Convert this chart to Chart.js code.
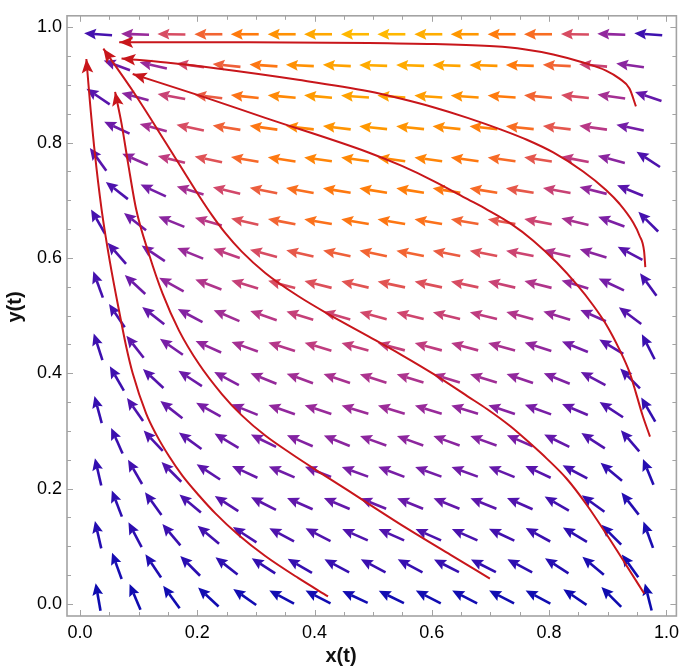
<!DOCTYPE html>
<html>
<head>
<meta charset="utf-8">
<script src="https://cdn.jsdelivr.net/npm/chart.js@4.4.1/dist/chart.umd.min.js"></script>
<style>
  html, body { margin: 0; padding: 0; background: #fff; }
</style>
</head>
<body>
<canvas id="chart" width="685" height="669"></canvas>
<script>
// vector field grid, hexagonal: even rows use colXA, odd rows colXB
const rowY = [0.988, 0.934, 0.880, 0.826, 0.771, 0.717, 0.663, 0.608, 0.554, 0.500,
              0.446, 0.391, 0.337, 0.283, 0.229, 0.174, 0.120, 0.066, 0.012];
const colXA = [0.031, 0.094, 0.156, 0.219, 0.281, 0.344, 0.406, 0.469,
               0.531, 0.594, 0.656, 0.719, 0.781, 0.844, 0.906, 0.969];
const colXB = [0.063, 0.125, 0.188, 0.250, 0.313, 0.375, 0.438, 0.500,
               0.563, 0.625, 0.688, 0.750, 0.813, 0.875, 0.938];

// arrow direction: degrees above the leftward horizontal (0 = left, 90 = up)
const arrowTilt = [
  [4, 2, 1, 0, 0, 0, 0, 0, 0, 0, 0, 0, 0, 1, 2, 4],
  [20, 13, 8, 6, 4, 3, 3, 2, 2, 2, 2, 2, 3, 5, 8],
  [34, 15, 10, 7, 6, 5, 5, 4, 4, 4, 4, 4, 5, 6, 8, 19],
  [25, 15, 12, 9, 8, 7, 7, 6, 6, 6, 6, 6, 7, 8, 12],
  [54, 24, 14, 12, 10, 9, 8, 8, 8, 8, 8, 8, 9, 11, 15, 33],
  [38, 25, 17, 13, 11, 10, 9, 9, 9, 9, 9, 9, 10, 14, 22],
  [60, 38, 22, 16, 13, 11, 10, 10, 10, 10, 10, 10, 11, 14, 20, 45],
  [49, 34, 22, 19, 15, 13, 12, 12, 11, 11, 11, 11, 13, 17, 28],
  [70, 43, 29, 21, 17, 15, 14, 13, 12, 12, 12, 13, 14, 17, 25, 54],
  [56, 38, 28, 23, 19, 17, 16, 15, 14, 14, 14, 15, 17, 24, 37],
  [72, 52, 35, 24, 20, 18, 17, 16, 15, 15, 15, 16, 18, 22, 31, 63],
  [60, 43, 33, 28, 22, 20, 19, 18, 17, 17, 17, 19, 22, 28, 45],
  [75, 55, 38, 29, 22, 19, 18, 17, 17, 17, 17, 18, 20, 23, 33, 60],
  [66, 47, 36, 31, 26, 23, 22, 20, 20, 20, 20, 23, 26, 33, 49],
  [77, 60, 45, 33, 25, 23, 21, 20, 21, 20, 20, 22, 25, 28, 40, 68],
  [69, 54, 40, 33, 27, 24, 23, 22, 22, 22, 22, 24, 30, 36, 52],
  [77, 62, 50, 40, 33, 28, 27, 24, 24, 24, 24, 25, 29, 31, 45, 70],
  [70, 56, 45, 38, 33, 30, 28, 28, 28, 27, 27, 28, 33, 40, 54],
  [80, 67, 54, 43, 35, 28, 27, 25, 26, 27, 27, 27, 28, 34, 45, 76]
];

// relative speed of each arrow, 0 = slow (blue) .. 1 = fast (yellow)
const arrowLevel = [
  [0.20, 0.42, 0.60, 0.72, 0.82, 0.88, 0.95, 1.00, 1.00, 0.97, 0.90, 0.82, 0.76, 0.60, 0.40, 0.18],
  [0.30, 0.42, 0.58, 0.70, 0.80, 0.88, 0.93, 0.96, 0.96, 0.94, 0.90, 0.82, 0.72, 0.55, 0.38],
  [0.25, 0.38, 0.55, 0.68, 0.79, 0.86, 0.91, 0.93, 0.93, 0.92, 0.88, 0.82, 0.72, 0.60, 0.45, 0.28],
  [0.30, 0.45, 0.60, 0.71, 0.80, 0.86, 0.89, 0.90, 0.89, 0.87, 0.83, 0.76, 0.65, 0.50, 0.32],
  [0.25, 0.38, 0.52, 0.63, 0.74, 0.81, 0.85, 0.86, 0.86, 0.85, 0.81, 0.75, 0.65, 0.52, 0.38, 0.22],
  [0.22, 0.32, 0.45, 0.58, 0.69, 0.77, 0.81, 0.83, 0.83, 0.81, 0.75, 0.66, 0.55, 0.40, 0.25],
  [0.20, 0.30, 0.38, 0.50, 0.62, 0.72, 0.78, 0.80, 0.80, 0.78, 0.72, 0.65, 0.56, 0.46, 0.34, 0.20],
  [0.22, 0.32, 0.42, 0.52, 0.60, 0.66, 0.70, 0.72, 0.72, 0.68, 0.62, 0.56, 0.48, 0.38, 0.25],
  [0.20, 0.30, 0.40, 0.48, 0.54, 0.60, 0.62, 0.64, 0.64, 0.62, 0.60, 0.55, 0.48, 0.40, 0.32, 0.20],
  [0.20, 0.28, 0.36, 0.44, 0.50, 0.54, 0.56, 0.58, 0.57, 0.55, 0.52, 0.48, 0.42, 0.33, 0.24],
  [0.18, 0.26, 0.33, 0.40, 0.45, 0.49, 0.52, 0.53, 0.53, 0.52, 0.50, 0.46, 0.40, 0.32, 0.25, 0.17],
  [0.18, 0.24, 0.30, 0.36, 0.41, 0.44, 0.46, 0.47, 0.47, 0.46, 0.44, 0.40, 0.35, 0.28, 0.20],
  [0.16, 0.22, 0.28, 0.33, 0.37, 0.40, 0.42, 0.43, 0.43, 0.42, 0.40, 0.37, 0.33, 0.28, 0.22, 0.15],
  [0.17, 0.22, 0.26, 0.30, 0.33, 0.36, 0.38, 0.39, 0.39, 0.38, 0.36, 0.33, 0.28, 0.23, 0.17],
  [0.15, 0.19, 0.23, 0.26, 0.29, 0.31, 0.32, 0.33, 0.33, 0.32, 0.31, 0.28, 0.25, 0.20, 0.15, 0.12],
  [0.14, 0.17, 0.21, 0.24, 0.26, 0.27, 0.28, 0.29, 0.29, 0.28, 0.26, 0.23, 0.19, 0.15, 0.12],
  [0.12, 0.14, 0.17, 0.19, 0.21, 0.22, 0.23, 0.23, 0.23, 0.22, 0.21, 0.19, 0.17, 0.14, 0.11, 0.10],
  [0.09, 0.11, 0.13, 0.14, 0.15, 0.16, 0.16, 0.17, 0.16, 0.16, 0.15, 0.14, 0.12, 0.10, 0.08],
  [0.05, 0.06, 0.07, 0.07, 0.08, 0.08, 0.08, 0.08, 0.08, 0.08, 0.08, 0.07, 0.07, 0.06, 0.05, 0.04]
];

// trajectories, from start point to the arrow head
const traj1 = [[0.948, 0.863], [0.937, 0.894], [0.920, 0.911], [0.897, 0.925], [0.858, 0.939],
  [0.807, 0.953], [0.757, 0.962], [0.706, 0.967], [0.604, 0.971], [0.492, 0.973],
  [0.289, 0.974], [0.067, 0.974]];
const traj2 = [[0.964, 0.584], [0.962, 0.611], [0.954, 0.639], [0.943, 0.662], [0.920, 0.694],
  [0.897, 0.718], [0.858, 0.750], [0.807, 0.783], [0.762, 0.805], [0.717, 0.823],
  [0.661, 0.843], [0.604, 0.861], [0.548, 0.876], [0.492, 0.889], [0.372, 0.909],
  [0.231, 0.929], [0.147, 0.939], [0.071, 0.946]];
const traj3 = [[0.972, 0.290], [0.959, 0.328], [0.948, 0.366], [0.937, 0.402], [0.920, 0.441],
  [0.897, 0.485], [0.875, 0.518], [0.847, 0.554], [0.813, 0.592], [0.773, 0.630],
  [0.734, 0.660], [0.694, 0.684], [0.661, 0.702], [0.604, 0.733], [0.548, 0.760],
  [0.492, 0.783], [0.316, 0.843], [0.203, 0.882], [0.090, 0.919]];
const traj4 = [[0.962, 0.018], [0.931, 0.068], [0.897, 0.122], [0.864, 0.172], [0.830, 0.217],
  [0.796, 0.252], [0.768, 0.278], [0.734, 0.308], [0.694, 0.338], [0.661, 0.360],
  [0.604, 0.398], [0.548, 0.432], [0.492, 0.464], [0.428, 0.500], [0.372, 0.534],
  [0.316, 0.574], [0.276, 0.611], [0.248, 0.643], [0.226, 0.673], [0.203, 0.708],
  [0.147, 0.799], [0.090, 0.890], [0.040, 0.963]];
const traj5 = [[0.699, 0.044], [0.632, 0.085], [0.559, 0.130], [0.502, 0.167], [0.457, 0.197],
  [0.406, 0.230], [0.361, 0.260], [0.316, 0.292], [0.276, 0.327], [0.242, 0.364],
  [0.203, 0.416], [0.169, 0.474], [0.141, 0.538], [0.118, 0.606], [0.096, 0.684],
  [0.082, 0.765], [0.071, 0.833], [0.060, 0.888]];
const traj6 = [[0.423, 0.013], [0.372, 0.045], [0.316, 0.083], [0.271, 0.119], [0.231, 0.157],
  [0.203, 0.188], [0.175, 0.222], [0.152, 0.256], [0.130, 0.294], [0.113, 0.330],
  [0.090, 0.400], [0.079, 0.446], [0.068, 0.502], [0.051, 0.594], [0.037, 0.684],
  [0.025, 0.786], [0.017, 0.872], [0.011, 0.945]];

const majorTicks = [0, 0.2, 0.4, 0.6, 0.8, 1.0];
const minorTicks = [0.05, 0.1, 0.15, 0.25, 0.3, 0.35, 0.45, 0.5, 0.55, 0.65, 0.7, 0.75, 0.85, 0.9, 0.95];

// colour ramp for the arrows (blue -> purple -> pink -> orange)
const colorStops = [
  [0.00, 8, 8, 170], [0.08, 18, 12, 178], [0.15, 50, 14, 176], [0.25, 88, 20, 172],
  [0.33, 120, 30, 166], [0.42, 152, 42, 154], [0.50, 184, 56, 134], [0.58, 210, 72, 106],
  [0.66, 230, 88, 74], [0.74, 246, 104, 42], [0.82, 255, 122, 12], [0.90, 255, 152, 0],
  [1.00, 255, 184, 0]
];

function levelColor(v) {
  for (let i = 1; i < colorStops.length; i++) {
    const a = colorStops[i - 1], b = colorStops[i];
    if (v <= b[0]) {
      const t = (v - a[0]) / (b[0] - a[0]);
      const c = [1, 2, 3].map(k => Math.round(a[k] + (b[k] - a[k]) * t));
      return `rgb(${c[0]},${c[1]},${c[2]})`;
    }
  }
  const l = colorStops[colorStops.length - 1];
  return `rgb(${l[1]},${l[2]},${l[3]})`;
}

const arrowPoints = [];
rowY.forEach((y, r) => {
  const xs = r % 2 === 0 ? colXA : colXB;
  xs.forEach((x, i) => {
    arrowPoints.push({ x: x, y: y, tilt: arrowTilt[r][i], level: arrowLevel[r][i] });
  });
});

const toXY = arr => arr.map(p => ({ x: p[0], y: p[1] }));
const trajectories = [traj1, traj2, traj3, traj4, traj5, traj6];

const RED = '#c8161b';
const FRAME = '#a3a3a3';

function drawHead(ctx, hx, hy, ux, uy, len, half, notch, color) {
  const bx = hx - ux * len, by = hy - uy * len;
  const px = -uy, py = ux;
  ctx.fillStyle = color;
  ctx.beginPath();
  ctx.moveTo(hx, hy);
  ctx.lineTo(bx + px * half, by + py * half);
  ctx.lineTo(bx + ux * notch, by + uy * notch);
  ctx.lineTo(bx - px * half, by - py * half);
  ctx.closePath();
  ctx.fill();
}

const fieldPlugin = {
  id: 'field',
  beforeDatasetsDraw(chart) {
    const ctx = chart.ctx;
    const meta = chart.getDatasetMeta(0);
    const L = 28, head = 12, half = 5.4, lw = 2.6;
    ctx.save();
    meta.data.forEach((el, i) => {
      const p = chart.data.datasets[0].data[i];
      const a = p.tilt * Math.PI / 180;
      const ux = -Math.cos(a), uy = -Math.sin(a);
      const color = levelColor(p.level);
      const hx = el.x + ux * L / 2, hy = el.y + uy * L / 2;
      const tx = el.x - ux * L / 2, ty = el.y - uy * L / 2;
      ctx.strokeStyle = color;
      ctx.lineWidth = lw;
      ctx.beginPath();
      ctx.moveTo(tx, ty);
      ctx.lineTo(hx - ux * (head - 2), hy - uy * (head - 2));
      ctx.stroke();
      drawHead(ctx, hx, hy, ux, uy, head, half, 2, color);
    });
    ctx.restore();
  },
  afterDatasetsDraw(chart) {
    const ctx = chart.ctx;
    ctx.save();
    for (let d = 1; d < chart.data.datasets.length; d++) {
      const pts = chart.getDatasetMeta(d).data;
      const a = pts[pts.length - 1], b = pts[pts.length - 2];
      const dx = a.x - b.x, dy = a.y - b.y, n = Math.hypot(dx, dy);
      drawHead(ctx, a.x, a.y, dx / n, dy / n, 14, 5.8, 3, RED);
    }
    ctx.restore();
  },
  afterDraw(chart) {
    const ctx = chart.ctx;
    const area = chart.chartArea;
    const xs = chart.scales.x, ys = chart.scales.y;
    ctx.save();
    ctx.strokeStyle = FRAME;
    ctx.lineWidth = 1;
    const tick = (vals, len) => {
      vals.forEach(v => {
        const px = Math.round(xs.getPixelForValue(v)) + 0.5;
        const py = Math.round(ys.getPixelForValue(v)) + 0.5;
        ctx.beginPath();
        ctx.moveTo(px, area.bottom); ctx.lineTo(px, area.bottom - len);
        ctx.moveTo(px, area.top); ctx.lineTo(px, area.top + len);
        ctx.moveTo(area.left, py); ctx.lineTo(area.left + len, py);
        ctx.moveTo(area.right, py); ctx.lineTo(area.right - len, py);
        ctx.stroke();
      });
    };
    tick(majorTicks, 6);
    tick(minorTicks, 4);
    ctx.lineWidth = 1.6;
    ctx.strokeRect(area.left, area.top, area.right - area.left, area.bottom - area.top);

    ctx.fillStyle = '#111';
    ctx.font = 'bold 20px "Liberation Sans", Arial, sans-serif';
    ctx.textAlign = 'center';
    ctx.textBaseline = 'middle';
    ctx.fillText('x(t)', 341, 656);
    ctx.translate(15, 307);
    ctx.rotate(-Math.PI / 2);
    ctx.fillText('y(t)', 0, 0);
    ctx.restore();
  }
};

const tickFont = { family: '"Liberation Sans", Arial, sans-serif', size: 18 };

new Chart(document.getElementById('chart'), {
  type: 'scatter',
  data: {
    datasets: [
      { data: arrowPoints, pointRadius: 0, pointHoverRadius: 0, showLine: false }
    ].concat(trajectories.map(t => ({
      data: toXY(t),
      showLine: true,
      borderColor: RED,
      borderWidth: 2,
      pointRadius: 0,
      pointHoverRadius: 0,
      cubicInterpolationMode: 'monotone',
      fill: false
    })))
  },
  options: {
    responsive: false,
    devicePixelRatio: 1,
    animation: false,
    layout: { padding: { top: 2, right: 4, left: 0, bottom: 0 } },
    plugins: { legend: { display: false }, tooltip: { enabled: false } },
    events: [],
    scales: {
      x: {
        type: 'linear',
        min: -0.022,
        max: 1.017,
        grid: { display: false, drawTicks: false },
        border: { display: false },
        ticks: { font: tickFont, color: '#000', padding: 6, callback: v => v.toFixed(1) },
        afterBuildTicks: s => { s.ticks = majorTicks.map(v => ({ value: v })); },
        afterFit: s => { s.height = 53; }
      },
      y: {
        type: 'linear',
        min: -0.021,
        max: 1.02,
        grid: { display: false, drawTicks: false },
        border: { display: false },
        ticks: { font: tickFont, color: '#000', padding: 5, callback: v => v.toFixed(1) },
        afterBuildTicks: s => { s.ticks = majorTicks.map(v => ({ value: v })); },
        afterFit: s => { s.width = 67; }
      }
    }
  },
  plugins: [fieldPlugin]
});
</script>
</body>
</html>
